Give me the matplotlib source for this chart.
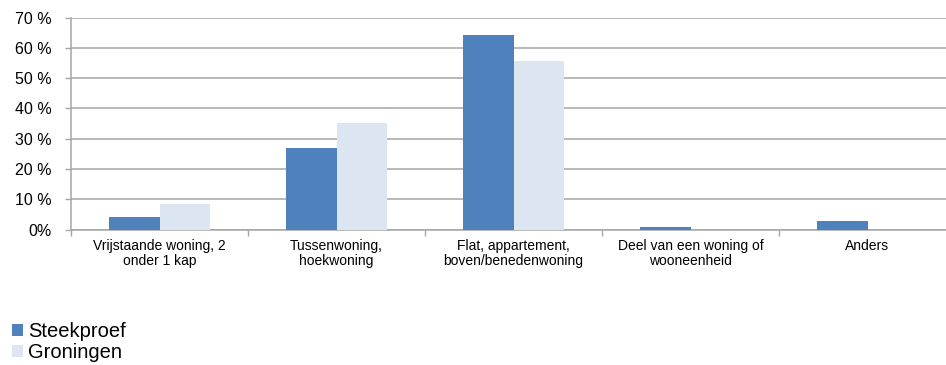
import matplotlib
matplotlib.use("Agg")
import matplotlib.pyplot as plt
from matplotlib.patches import Patch
import numpy as np

plt.rcParams['font.family'] = ['Liberation Sans', 'DejaVu Sans']

categories = ["Vrijstaande woning, 2\nonder 1 kap", "Tussenwoning,\nhoekwoning",
              "Flat, appartement,\nboven/benedenwoning", "Deel van een woning of\nwooneenheid",
              "Anders"]
steekproef = [4.0, 26.8, 64.1, 0.9, 2.8]
groningen = [8.5, 35.1, 55.6, 0.0, 0.0]
yticks = [0, 10, 20, 30, 40, 50, 60, 70]
series_names = ["Steekproef", "Groningen"]

c1 = "#4F81BD"
c2 = "#DCE6F2"
grid_c = "#A6A6A6"

fig = plt.figure(figsize=(9.46, 3.65), dpi=100)
ax = fig.add_axes([71/946, 135.5/365, 885/946, 212/365])

x = np.arange(len(categories))
w = 0.283
ax.bar(x - w/2, steekproef, w, color=c1, zorder=3)
ax.bar(x + w/2, groningen, w, color=c2, zorder=3)

ax.set_xlim(-0.5, len(categories) - 0.5)
ax.set_ylim(0, 70)
ax.set_yticks(yticks)
ax.set_yticklabels([f"{v} %" if v else f"{v}%" for v in yticks], fontsize=11.5)
ax.yaxis.grid(True, color=grid_c, linewidth=1.1, zorder=0)
ax.set_axisbelow(True)

ax.set_xticks(np.arange(len(categories) + 1) - 0.5, minor=False)
ax.set_xticklabels([])
ax.set_xticks(x, minor=True)
ax.set_xticklabels(categories, minor=True, fontsize=10, linespacing=1.05)
ax.tick_params(axis='x', which='minor', length=0, pad=7)
ax.tick_params(axis='x', which='major', length=4, color=grid_c, width=1)
ax.tick_params(axis='y', length=4, color=grid_c, width=1, pad=10)

for s in ['top', 'right']:
    ax.spines[s].set_visible(False)
for s in ['left', 'bottom']:
    ax.spines[s].set_color(grid_c)
    ax.spines[s].set_linewidth(1.1)

handles = [Patch(facecolor=c1), Patch(facecolor=c2)]
fig.legend(handles, series_names, loc='upper left', bbox_to_anchor=(0.0, 1 - 310/365),
           frameon=False, fontsize=14.5, handlelength=0.55, handleheight=0.55,
           handletextpad=0.25, labelspacing=0.1, borderpad=0.3, borderaxespad=0.3)

fig.savefig("out.png", dpi=100)
